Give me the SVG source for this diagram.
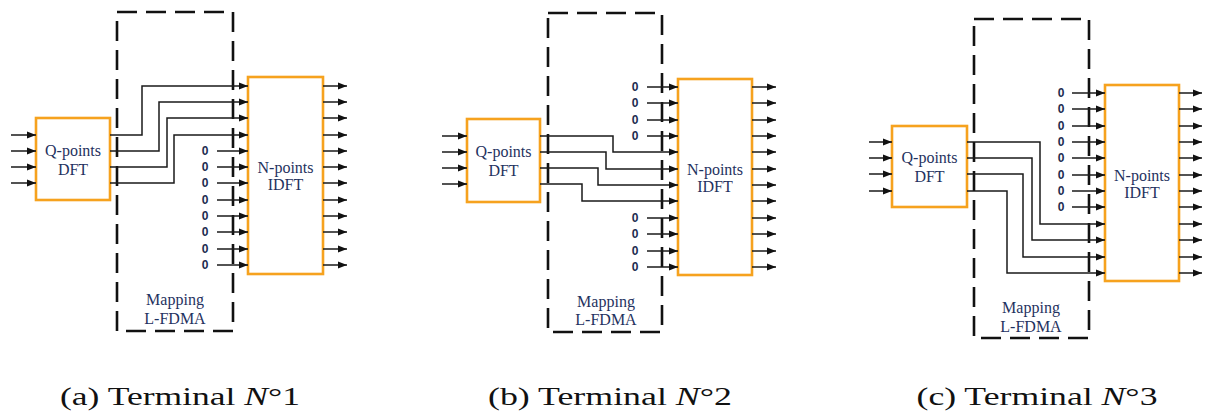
<svg xmlns="http://www.w3.org/2000/svg" width="1210" height="416" viewBox="0 0 1210 416">
<style>
.blk{fill:#ffffff;stroke:#f6a21e;stroke-width:2.6}
.map{fill:none;stroke:#111;stroke-width:2.6;stroke-dasharray:20 9}
.arr{fill:none;stroke:#1a1a1a;stroke-width:1.5;marker-end:url(#ah)}
.lbl{font-family:'Liberation Serif','Times New Roman',Times,serif;font-size:16px;fill:#1f3260;text-anchor:middle}
.zero{font-family:'Liberation Sans',Arial,sans-serif;font-size:12px;font-weight:bold;fill:#1c2b50;text-anchor:middle}
.cap{font-family:'Liberation Serif','Times New Roman',Times,serif;font-size:26px;fill:#111;text-anchor:middle}
</style>
<defs>
<marker id="ah" markerUnits="userSpaceOnUse" markerWidth="9" markerHeight="8" refX="9" refY="4" orient="auto">
<path d="M0,0.5 L9,4 L0,7.5 z" fill="#111"/>
</marker>
</defs>

<!-- ===== Panel (a) ===== -->
<g id="map-a">
<rect class="map" x="117" y="12" width="116" height="319"/>
<text class="lbl" x="175" y="305">Mapping</text>
<text class="lbl" x="175" y="324">L-FDMA</text>
</g>
<g id="dft-a">
<rect class="blk" x="36" y="118" width="74" height="82"/>
<text class="lbl" x="73" y="156">Q-points</text>
<text class="lbl" x="73" y="175">DFT</text>
</g>
<g id="idft-a">
<rect class="blk" x="248" y="77" width="75" height="197"/>
<text class="lbl" x="285.5" y="173">N-points</text>
<text class="lbl" x="285.5" y="190">IDFT</text>
</g>
<g id="zeros-a">
<text class="zero" x="205" y="155">0</text>
<text class="zero" x="205" y="171">0</text>
<text class="zero" x="205" y="187">0</text>
<text class="zero" x="205" y="204">0</text>
<text class="zero" x="205" y="220">0</text>
<text class="zero" x="205" y="236">0</text>
<text class="zero" x="205" y="253">0</text>
<text class="zero" x="205" y="269">0</text>
</g>
<g id="connectors-a">
<path class="arr" d="M11,135H36"/><path class="arr" d="M11,151H36"/><path class="arr" d="M11,167H36"/><path class="arr" d="M11,183H36"/>
<path class="arr" d="M110,135H142V86H248"/>
<path class="arr" d="M110,151H159V102H248"/>
<path class="arr" d="M110,167H167V118H248"/>
<path class="arr" d="M110,183H174V135H248"/>
<path class="arr" d="M217,151H248"/><path class="arr" d="M217,167H248"/><path class="arr" d="M217,183H248"/><path class="arr" d="M217,200H248"/>
<path class="arr" d="M217,216H248"/><path class="arr" d="M217,232H248"/><path class="arr" d="M217,249H248"/><path class="arr" d="M217,265H248"/>
<path class="arr" d="M323,86H347"/><path class="arr" d="M323,102H347"/><path class="arr" d="M323,118H347"/><path class="arr" d="M323,135H347"/>
<path class="arr" d="M323,151H347"/><path class="arr" d="M323,167H347"/><path class="arr" d="M323,183H347"/><path class="arr" d="M323,200H347"/>
<path class="arr" d="M323,216H347"/><path class="arr" d="M323,232H347"/><path class="arr" d="M323,249H347"/><path class="arr" d="M323,265H347"/>
</g>
<text class="cap" x="180" y="405" textLength="240" lengthAdjust="spacingAndGlyphs">(a) Terminal <tspan font-style="italic">N</tspan>°1</text>

<!-- ===== Panel (b) ===== -->
<g id="map-b">
<rect class="map" x="548" y="13" width="114" height="319"/>
<text class="lbl" x="606" y="307">Mapping</text>
<text class="lbl" x="606" y="325">L-FDMA</text>
</g>
<g id="dft-b">
<rect class="blk" x="467" y="119" width="73" height="83"/>
<text class="lbl" x="503.5" y="157">Q-points</text>
<text class="lbl" x="503.5" y="176">DFT</text>
</g>
<g id="idft-b">
<rect class="blk" x="678" y="79" width="74" height="196"/>
<text class="lbl" x="715" y="175">N-points</text>
<text class="lbl" x="715" y="192">IDFT</text>
</g>
<g id="zeros-b">
<text class="zero" x="635" y="91">0</text>
<text class="zero" x="635" y="107">0</text>
<text class="zero" x="635" y="124">0</text>
<text class="zero" x="635" y="140">0</text>
<text class="zero" x="635" y="222">0</text>
<text class="zero" x="635" y="238">0</text>
<text class="zero" x="635" y="255">0</text>
<text class="zero" x="635" y="271">0</text>
</g>
<g id="connectors-b">
<path class="arr" d="M442,136H467"/><path class="arr" d="M442,152H467"/><path class="arr" d="M442,168H467"/><path class="arr" d="M442,184H467"/>
<path class="arr" d="M540,136H613V152H678"/>
<path class="arr" d="M540,152H606V169H678"/>
<path class="arr" d="M540,168H598V185H678"/>
<path class="arr" d="M540,184H582V201H678"/>
<path class="arr" d="M647,87H678"/><path class="arr" d="M647,103H678"/><path class="arr" d="M647,120H678"/><path class="arr" d="M647,136H678"/>
<path class="arr" d="M647,218H678"/><path class="arr" d="M647,234H678"/><path class="arr" d="M647,251H678"/><path class="arr" d="M647,267H678"/>
<path class="arr" d="M752,87H776"/><path class="arr" d="M752,103H776"/><path class="arr" d="M752,120H776"/><path class="arr" d="M752,136H776"/>
<path class="arr" d="M752,152H776"/><path class="arr" d="M752,169H776"/><path class="arr" d="M752,185H776"/><path class="arr" d="M752,201H776"/>
<path class="arr" d="M752,218H776"/><path class="arr" d="M752,234H776"/><path class="arr" d="M752,251H776"/><path class="arr" d="M752,267H776"/>
</g>
<text class="cap" x="610" y="405" textLength="244" lengthAdjust="spacingAndGlyphs">(b) Terminal <tspan font-style="italic">N</tspan>°2</text>

<!-- ===== Panel (c) ===== -->
<g id="map-c">
<rect class="map" x="974" y="19" width="115" height="319"/>
<text class="lbl" x="1031" y="313">Mapping</text>
<text class="lbl" x="1031" y="332">L-FDMA</text>
</g>
<g id="dft-c">
<rect class="blk" x="892" y="126" width="75" height="81"/>
<text class="lbl" x="929.5" y="163">Q-points</text>
<text class="lbl" x="929.5" y="182">DFT</text>
</g>
<g id="idft-c">
<rect class="blk" x="1105" y="85" width="74" height="196"/>
<text class="lbl" x="1142" y="181">N-points</text>
<text class="lbl" x="1142" y="198">IDFT</text>
</g>
<g id="zeros-c">
<text class="zero" x="1061" y="97">0</text>
<text class="zero" x="1061" y="113">0</text>
<text class="zero" x="1061" y="130">0</text>
<text class="zero" x="1061" y="146">0</text>
<text class="zero" x="1061" y="162">0</text>
<text class="zero" x="1061" y="179">0</text>
<text class="zero" x="1061" y="195">0</text>
<text class="zero" x="1061" y="211">0</text>
</g>
<g id="connectors-c">
<path class="arr" d="M869,142H892"/><path class="arr" d="M869,158H892"/><path class="arr" d="M869,174H892"/><path class="arr" d="M869,191H892"/>
<path class="arr" d="M967,142H1040V224H1105"/>
<path class="arr" d="M967,158H1032V240H1105"/>
<path class="arr" d="M967,174H1023V257H1105"/>
<path class="arr" d="M967,191H1007V273H1105"/>
<path class="arr" d="M1072,93H1105"/><path class="arr" d="M1072,109H1105"/><path class="arr" d="M1072,126H1105"/><path class="arr" d="M1072,142H1105"/>
<path class="arr" d="M1072,158H1105"/><path class="arr" d="M1072,175H1105"/><path class="arr" d="M1072,191H1105"/><path class="arr" d="M1072,207H1105"/>
<path class="arr" d="M1179,93H1202"/><path class="arr" d="M1179,109H1202"/><path class="arr" d="M1179,126H1202"/><path class="arr" d="M1179,142H1202"/>
<path class="arr" d="M1179,158H1202"/><path class="arr" d="M1179,175H1202"/><path class="arr" d="M1179,191H1202"/><path class="arr" d="M1179,207H1202"/>
<path class="arr" d="M1179,224H1202"/><path class="arr" d="M1179,240H1202"/><path class="arr" d="M1179,257H1202"/><path class="arr" d="M1179,273H1202"/>
</g>
<text class="cap" x="1037" y="405" textLength="241" lengthAdjust="spacingAndGlyphs">(c) Terminal <tspan font-style="italic">N</tspan>°3</text>
</svg>
